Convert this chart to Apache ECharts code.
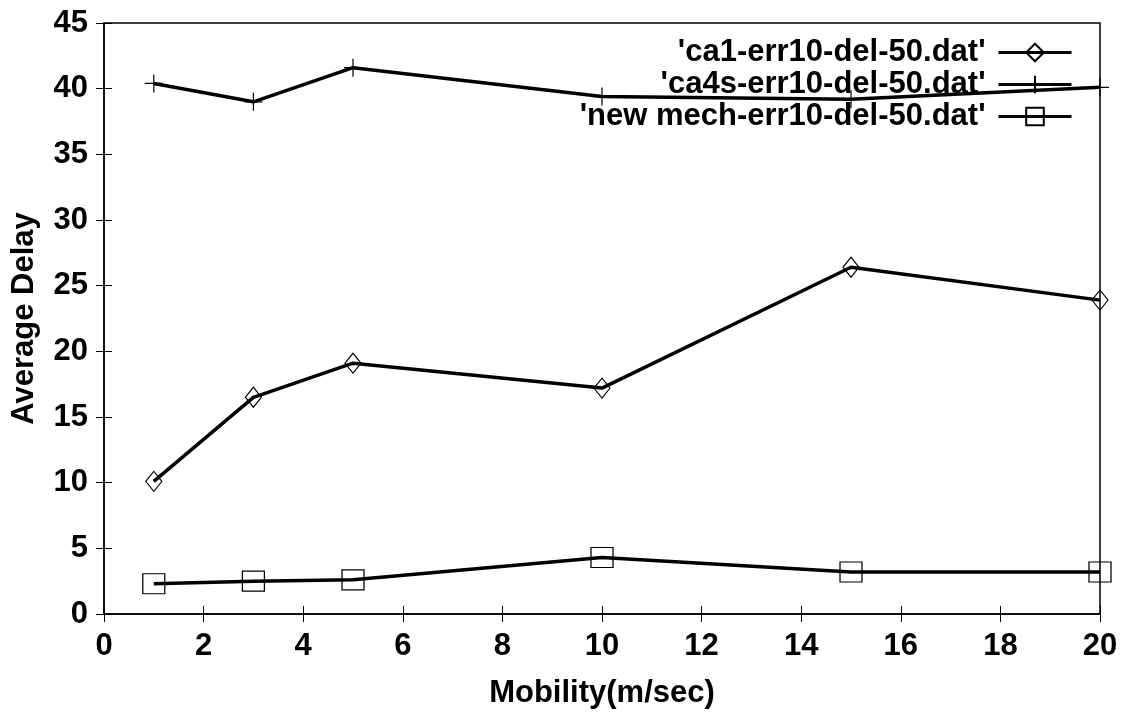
<!DOCTYPE html>
<html>
<head>
<meta charset="utf-8">
<script src="https://cdn.jsdelivr.net/npm/echarts@6/dist/echarts.min.js"></script>
<style>html,body{margin:0;padding:0;background:#fff}#c{width:1126px;height:716px}</style>
</head>
<body>
<div id="c"></div>
<script>
const mobility = [1, 3, 5, 10, 15, 20];
const ca1Delay = [10.1, 16.5, 19.1, 17.2, 26.4, 23.9];
const ca4sDelay = [40.4, 39.0, 41.6, 39.4, 39.2, 40.1];
const newMechDelay = [2.3, 2.5, 2.6, 4.3, 3.2, 3.2];
const seriesNames = ["'ca1-err10-del-50.dat'", "'ca4s-err10-del-50.dat'", "'new mech-err10-del-50.dat'"];
const xTicks = [0, 2, 4, 6, 8, 10, 12, 14, 16, 18, 20];
const yTicks = [0, 5, 10, 15, 20, 25, 30, 35, 40, 45];

const FONT = 'Liberation Sans';
const pairs = (ys) => mobility.map((x, i) => [x, ys[i]]);
const tickFont = { fontFamily: FONT, fontWeight: 'bold', fontSize: 31, color: '#000' };

function mk(name, data, symbol, size) {
  return {
    name, type: 'line', data: pairs(data), symbol, symbolSize: size,
    showAllSymbol: true,
    lineStyle: { color: '#000', width: 3.5 },
    itemStyle: { color: 'rgba(255,255,255,0)', borderColor: '#000', borderWidth: 1.2 },
    z: 3
  };
}

const chart = echarts.init(document.getElementById('c'), null, { renderer: 'canvas' });
chart.setOption({
  backgroundColor: '#fff',
  animation: false,
  grid: { left: 104, right: 26, top: 23, bottom: 102, show: true, borderColor: '#000', borderWidth: 1.5,
          containLabel: false, outerBoundsMode: 'none' },
  legend: {
    orient: 'vertical', align: 'right', right: 48, top: 32,
    itemWidth: 73, itemHeight: 22, itemGap: 1,
    data: seriesNames,
    lineStyle: { width: 3, color: '#000' },
    textStyle: { fontFamily: FONT, fontWeight: 'bold', fontSize: 31, color: '#000', padding: [0, 8, 0, 0] },
    inactiveColor: '#000'
  },
  xAxis: [{
    type: 'value', min: xTicks[0], max: xTicks[xTicks.length - 1], interval: 2,
    name: 'Mobility(m/sec)', nameLocation: 'middle', nameGap: 64, nameMoveOverlap: false,
    nameTextStyle: { fontFamily: FONT, fontWeight: 'bold', fontSize: 31, color: '#000' },
    axisLine: { show: true, lineStyle: { color: '#000', width: 1.5 } },
    axisTick: { inside: true, length: 8, lineStyle: { color: '#000' } },
    axisLabel: Object.assign({ margin: 17 }, tickFont),
    splitLine: { show: false }
  }, {
    type: 'value', position: 'top', min: xTicks[0], max: xTicks[xTicks.length - 1], interval: 2,
    axisLine: { show: false }, axisTick: { inside: true, length: 8, lineStyle: { color: '#000' } },
    axisLabel: { show: false }, splitLine: { show: false }
  }],
  yAxis: [{
    type: 'value', min: yTicks[0], max: yTicks[yTicks.length - 1], interval: 5,
    name: 'Average Delay', nameLocation: 'middle', nameGap: 64, nameMoveOverlap: false,
    nameTextStyle: { fontFamily: FONT, fontWeight: 'bold', fontSize: 31, color: '#000' },
    axisLine: { show: true, lineStyle: { color: '#000', width: 1.5 } },
    axisTick: { show: true, inside: true, length: 8, lineStyle: { color: '#000' } },
    axisLabel: Object.assign({ margin: 16 }, tickFont),
    splitLine: { show: false }
  }, {
    type: 'value', position: 'right', min: yTicks[0], max: yTicks[yTicks.length - 1], interval: 5,
    axisLine: { show: false }, axisTick: { show: true, inside: true, length: 8, lineStyle: { color: '#000' } },
    axisLabel: { show: false }, splitLine: { show: false }
  }],
  series: [
    mk(seriesNames[0], ca1Delay, 'diamond', [16, 20]),
    mk(seriesNames[1], ca4sDelay, 'path://M0,10L20,10M10,0L10,20', 18),
    mk(seriesNames[2], newMechDelay, 'rect', [22, 20])
  ]
});
</script>
</body>
</html>
